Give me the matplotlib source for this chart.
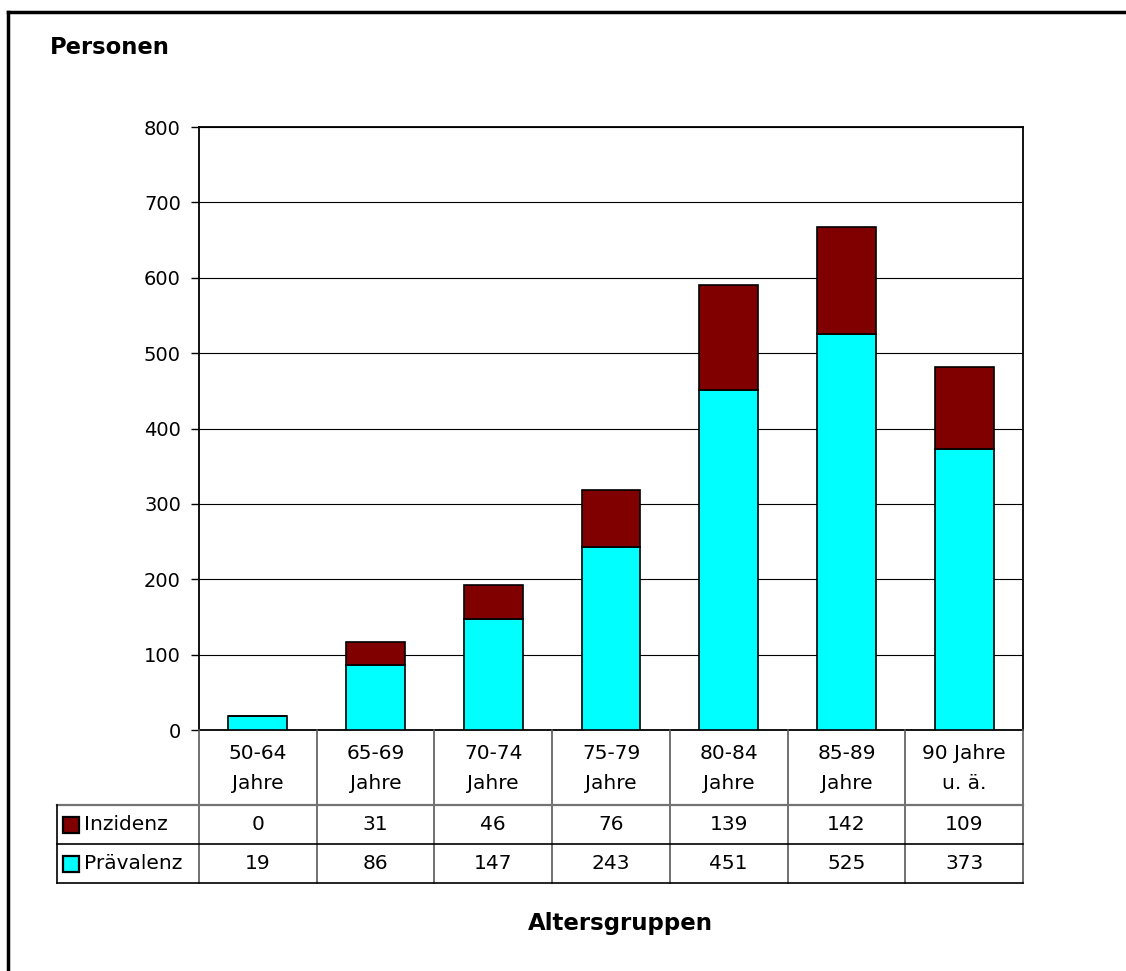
import numpy as np
import matplotlib
matplotlib.use("Agg")
import matplotlib.pyplot as plt
from matplotlib.patches import Rectangle

plt.rcParams["font.family"] = ["DejaVu Sans"]

# Altersgruppen und Fallzahlen
gruppen = ["50-64\nJahre", "65-69\nJahre", "70-74\nJahre", "75-79\nJahre",
           "80-84\nJahre", "85-89\nJahre", "90 Jahre\nu. ä."]
praevalenz = [19, 86, 147, 243, 451, 525, 373]
inzidenz = [0, 31, 46, 76, 139, 142, 109]
y_ticks = [0, 100, 200, 300, 400, 500, 600, 700, 800]

C_PRAEV = "#00FFFF"
C_INZ = "#800000"
FS = 14.5

W, H = 1126, 971
fig = plt.figure(figsize=(W / 100, H / 100), dpi=100)


def px_axes(x0, y0, x1, y1):
    """Achsen in Pixelkoordinaten (oben links = 0,0) anlegen."""
    return fig.add_axes([x0 / W, 1 - y1 / H, (x1 - x0) / W, (y1 - y0) / H])


# äußerer Rahmen
fig.add_artist(plt.Line2D([8 / W, 8 / W], [0, 1 - 12 / H], color="black", lw=2.5,
                          transform=fig.transFigure))
fig.add_artist(plt.Line2D([8 / W, 1], [1 - 12 / H, 1 - 12 / H], color="black", lw=2.5,
                          transform=fig.transFigure))

# Diagramm
PL, PT, PR, PB = 199, 127, 1023, 730
ax = px_axes(PL, PT, PR, PB)
n = len(gruppen)
x = np.arange(n)
ax.bar(x, praevalenz, width=0.5, color=C_PRAEV, edgecolor="black", lw=1.2, zorder=3)
ax.bar(x, inzidenz, width=0.5, bottom=praevalenz, color=C_INZ, edgecolor="black",
       lw=1.2, zorder=3)
ax.set_xlim(-0.5, n - 0.5)
ax.set_ylim(0, 800)
ax.set_yticks(y_ticks)
ax.set_xticks([])
ax.yaxis.grid(True, color="black", lw=0.8)
ax.set_axisbelow(True)
for s in ax.spines.values():
    s.set_linewidth(1.3)
ax.tick_params(axis="y", direction="out", length=6, width=1, labelsize=14, pad=7)

# Datentabelle unter dem Diagramm
TL, TT, TB = 57, 730, 883
tab = px_axes(TL, TT, PR, TB)
unit = (PR - PL) / n
tab.set_xlim(-0.5 - (PL - TL) / unit, n - 0.5)
tab.set_ylim(TB - TT, 0)
tab.axis("off")
r1, r2 = 805 - TT, 844 - TT
r3 = TB - TT

for i in range(n + 1):
    tab.plot([i - 0.5, i - 0.5], [0, r3], color="0.35", lw=1.2, clip_on=False)
xl = -0.5 - (PL - TL) / unit
tab.plot([xl, n - 0.5], [r1, r1], color="0.45", lw=1.6, clip_on=False)
tab.plot([xl, n - 0.5], [r2, r2], color="black", lw=1.2, clip_on=False)
tab.plot([xl, n - 0.5], [r3, r3], color="black", lw=1.2, clip_on=False)
tab.plot([xl, xl], [r1, r3], color="black", lw=1.2, clip_on=False)

for i, g in enumerate(gruppen):
    tab.text(i, r1 / 2 + 1, g, ha="center", va="center", fontsize=FS, linespacing=1.75)
    tab.text(i, (r1 + r2) / 2, str(inzidenz[i]), ha="center", va="center", fontsize=FS)
    tab.text(i, (r2 + r3) / 2, str(praevalenz[i]), ha="center", va="center", fontsize=FS)

for (ya, yb), lab, col in [((r1, r2), "Inzidenz", C_INZ), ((r2, r3), "Prävalenz", C_PRAEV)]:
    yc = (ya + yb) / 2
    tab.add_patch(Rectangle((xl + 6 / unit, yc - 8), 16 / unit, 16, facecolor=col,
                            edgecolor="black", lw=1.6, clip_on=False))
    tab.text(xl + 27 / unit, yc, lab, ha="left", va="center", fontsize=FS)

fig.text(50 / W, 1 - 48 / H, "Personen", ha="left", va="center", fontsize=16.3,
         fontweight="bold")
fig.text(620 / W, 1 - 923 / H, "Altersgruppen", ha="center", va="center", fontsize=16.5,
         fontweight="bold")

fig.savefig("out.png", dpi=100, facecolor="white")
